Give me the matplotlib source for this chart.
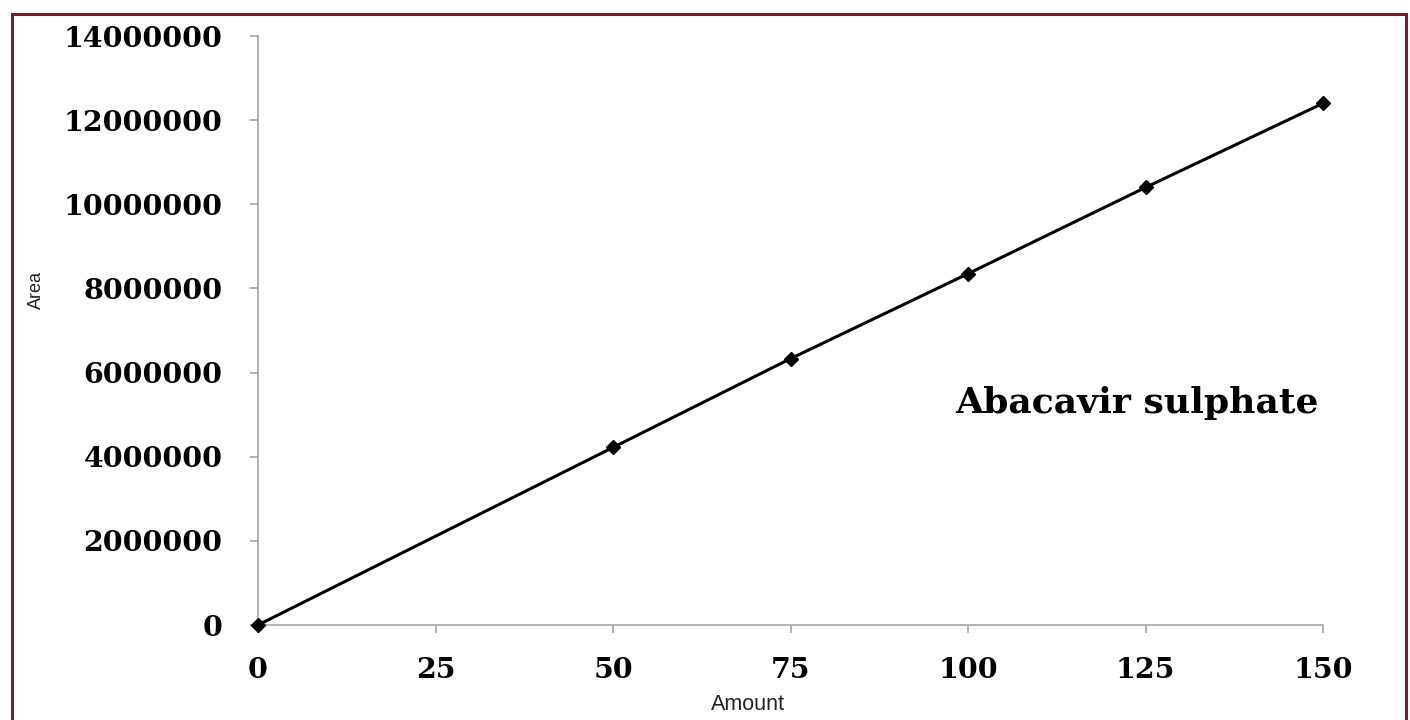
import matplotlib
matplotlib.use("Agg")
import matplotlib.pyplot as plt
from matplotlib.patches import Rectangle

amount = [0, 50, 75, 100, 125, 150]
area = [0, 4220000, 6330000, 8350000, 10400000, 12400000]
x_ticks = [0, 25, 50, 75, 100, 125, 150]
y_ticks = [0, 2000000, 4000000, 6000000, 8000000, 10000000, 12000000, 14000000]
annotation = "Abacavir sulphate"

W, H = 1410, 720
fig = plt.figure(figsize=(W / 100, H / 100), dpi=100)
ax = fig.add_axes([258 / W, 1 - 625 / H, (1323 - 258) / W, (625 - 36) / H])

ax.plot(amount, area, color="black", lw=2.2, marker="D", markersize=7,
        markerfacecolor="black", markeredgecolor="black", clip_on=False, zorder=3)

ax.set_xlim(0, 150)
ax.set_ylim(0, 14000000)
ax.set_xticks(x_ticks)
ax.set_yticks(y_ticks)
ax.set_xticklabels([str(v) for v in x_ticks])
ax.set_yticklabels([str(v) for v in y_ticks])

for s in ["top", "right"]:
    ax.spines[s].set_visible(False)
for s in ["left", "bottom"]:
    ax.spines[s].set_color("#a6a6a6")
    ax.spines[s].set_linewidth(1.2)

ax.tick_params(axis="both", colors="#a6a6a6", length=6, width=1.2, direction="out")
ax.tick_params(axis="y", pad=19.5)
ax.tick_params(axis="x", pad=17)
for lab in ax.get_xticklabels() + ax.get_yticklabels():
    lab.set_fontfamily("DejaVu Serif")
    lab.set_fontweight("heavy")
    lab.set_fontsize(20.5)
    lab.set_color("black")

fig.text(36 / W, 1 - 290 / H, "Area", rotation=90, ha="center", va="center",
         family="Liberation Sans", fontsize=13, color="#222222")
fig.text(748 / W, 1 - 705 / H, "Amount", ha="center", va="center",
         family="Liberation Sans", fontsize=15.5, color="#222222")

ax.text((955 - 258) / 1065, (625 - 403) / 589, annotation, transform=ax.transAxes,
        ha="left", va="center", family="DejaVu Serif", weight="bold", fontsize=26,
        color="black")

border = Rectangle((12 / W, -0.05), (1406 - 12) / W, 1.05 - 14 / H,
                   transform=fig.transFigure, fill=False, edgecolor="#7b1c2c",
                   linewidth=2.2)
fig.patches.append(border)

fig.savefig("out.png", dpi=100)
